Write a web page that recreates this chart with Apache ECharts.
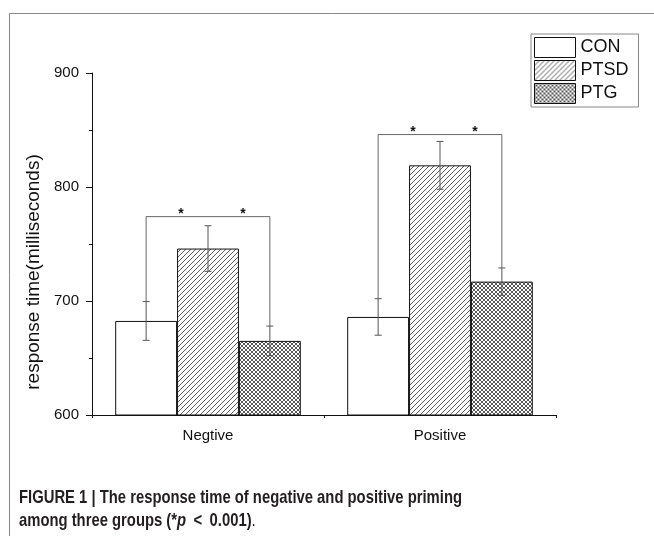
<!DOCTYPE html>
<html>
<head>
<meta charset="utf-8">
<script src="https://cdn.jsdelivr.net/npm/echarts@6/dist/echarts.min.js"></script>
<style>
html,body{margin:0;padding:0;background:#fff;}
#wrap{position:relative;width:654px;height:536px;overflow:hidden;}
#main{width:654px;height:536px;}
#caption{position:absolute;left:19px;top:485px;font-family:'Liberation Sans',Arial,sans-serif;font-weight:bold;font-size:19px;line-height:23px;color:#231f20;white-space:nowrap;transform-origin:0 0;}
#caption .r{font-weight:normal;}
</style>
</head>
<body>
<div id="wrap">
<div id="main"></div>
<div id="caption"><span id="cap1">FIGURE 1 | The response time of negative and positive priming</span><br>among three groups (*<i>p</i>&ensp;&lt;&ensp;0.001)<span class="r">.</span></div>
</div>
<script>
// ---- data ----
const categories = ['Negtive', 'Positive'];
const seriesNames = ['CON', 'PTSD', 'PTG'];
const conMean = [682.5, 686];
const ptsdMean = [746, 819];
const ptgMean = [665, 717];
const conErr = [17, 16];
const ptsdErr = [20, 21];
const ptgErr = [13, 12];
const bracketY = [774, 846];
const yMin = 600, yMax = 900, yInterval = 100;

// caption width fit (condensed face of the original)
(function () {
  const cap = document.getElementById('caption');
  const w = document.getElementById('cap1').getBoundingClientRect().width;
  cap.style.transform = 'scaleX(' + (443 / w) + ')';
})();

// ---- patterns ----
function makeHatch() {
  const c = document.createElement('canvas');
  const s = 5; c.width = s; c.height = s;
  const g = c.getContext('2d');
  g.fillStyle = '#fff'; g.fillRect(0, 0, s, s);
  g.strokeStyle = '#333'; g.lineWidth = 0.8;
  g.beginPath();
  g.moveTo(0, s); g.lineTo(s, 0);
  g.moveTo(-1, 1); g.lineTo(1, -1);
  g.moveTo(s - 1, s + 1); g.lineTo(s + 1, s - 1);
  g.stroke();
  return c;
}
function makeCross() {
  const c = document.createElement('canvas');
  const s = 4; c.width = s; c.height = s;
  const g = c.getContext('2d');
  g.fillStyle = '#fff'; g.fillRect(0, 0, s, s);
  g.strokeStyle = '#3a3a3a'; g.lineWidth = 0.85;
  g.beginPath();
  g.moveTo(0, s); g.lineTo(s, 0);
  g.moveTo(0, 0); g.lineTo(s, s);
  g.moveTo(-1, 1); g.lineTo(1, -1);
  g.moveTo(s - 1, s + 1); g.lineTo(s + 1, s - 1);
  g.moveTo(-1, s - 1); g.lineTo(1, s + 1);
  g.moveTo(s - 1, -1); g.lineTo(s + 1, 1);
  g.stroke();
  return c;
}
const fills = ['#ffffff', {image: makeHatch(), repeat: 'repeat'}, {image: makeCross(), repeat: 'repeat'}];
const means = [conMean, ptsdMean, ptgMean];
const errs = [conErr, ptsdErr, ptgErr];

const chart = echarts.init(document.getElementById('main'));

const barSeries = seriesNames.map((name, i) => ({
  name: name,
  type: 'bar',
  data: means[i],
  barGap: '0%',
  barCategoryGap: '20%',
  itemStyle: {color: fills[i], borderColor: '#111', borderWidth: 1},
  emphasis: {disabled: true},
  z: 2
}));

const errData = [];
for (let c = 0; c < categories.length; c++) {
  for (let s = 0; s < seriesNames.length; s++) {
    errData.push([c, s, means[s][c], errs[s][c]]);
  }
}

const bracketData = categories.map((_, c) => [c, bracketY[c], conMean[c] + conErr[c], ptgMean[c] + ptgErr[c]]);

function barX(api, c, s) {
  const band = api.size([1, 0])[0];
  const bw = band * 0.8 / 3;
  return api.coord([c, yMin])[0] + (s - 1) * bw;
}

const starStyle = {text: '*', fontFamily: 'Liberation Sans', fontSize: 14, fontWeight: 'bold', fill: '#111', align: 'center', verticalAlign: 'middle'};

chart.setOption({
  animation: false,
  graphic: [
    {type: 'rect', left: 7, top: 11, shape: {width: 800, height: 700}, style: {fill: 'none', stroke: '#888', lineWidth: 1}, silent: true}
  ],
  legend: {
    data: seriesNames,
    orient: 'vertical',
    left: 531, top: 34,
    itemWidth: 41, itemHeight: 20,
    itemGap: 2,
    padding: [3, 10, 3, 3],
    borderColor: '#888', borderWidth: 1,
    selectedMode: false,
    icon: 'rect',
    itemStyle: {borderColor: '#111', borderWidth: 1},
    textStyle: {fontFamily: 'Liberation Sans', fontSize: 18, color: '#111'}
  },
  grid: {left: 92, right: 98, top: 73, bottom: 121},
  xAxis: [
    {
      type: 'category', data: categories,
      axisLine: {lineStyle: {color: '#111', width: 1}},
      axisTick: {alignWithLabel: true, length: 5, lineStyle: {color: '#111'}},
      axisLabel: {fontFamily: 'Liberation Sans', fontSize: 15, color: '#111', margin: 13}
    },
    {
      type: 'category', data: categories, position: 'bottom',
      axisLine: {show: false},
      axisTick: {show: true, length: 3, lineStyle: {color: '#111'}},
      axisLabel: {show: false}
    }
  ],
  yAxis: {
    type: 'value', min: yMin, max: yMax, interval: yInterval,
    name: 'response time(milliseconds)',
    nameLocation: 'middle', nameGap: 43, nameRotate: 90,
    nameTextStyle: {fontFamily: 'Liberation Sans', fontSize: 19, color: '#111', padding: [0, 56, 0, 0]},
    axisLine: {show: true, lineStyle: {color: '#111', width: 1}},
    axisTick: {show: true, length: 6, lineStyle: {color: '#111'}},
    minorTick: {show: true, splitNumber: 2, length: 3, lineStyle: {color: '#111'}},
    splitLine: {show: false},
    axisLabel: {fontFamily: 'Liberation Sans', fontSize: 15, color: '#111', margin: 13}
  },
  series: barSeries.concat([
    {
      type: 'custom',
      name: 'err',
      data: errData,
      encode: {x: 0, y: 2},
      z: 5,
      silent: true,
      renderItem: function (params, api) {
        const c = api.value(0), s = api.value(1), m = api.value(2), e = api.value(3);
        const x = barX(api, c, s);
        const yt = api.coord([c, m + e])[1];
        const yb = api.coord([c, m - e])[1];
        const cap = 3.5;
        const st = {stroke: '#555', lineWidth: 1};
        return {type: 'group', children: [
          {type: 'line', shape: {x1: x, y1: yt, x2: x, y2: yb}, style: st},
          {type: 'line', shape: {x1: x - cap, y1: yt, x2: x + cap, y2: yt}, style: st},
          {type: 'line', shape: {x1: x - cap, y1: yb, x2: x + cap, y2: yb}, style: st}
        ]};
      }
    },
    {
      type: 'custom',
      name: 'sig',
      data: bracketData,
      encode: {x: 0, y: 1},
      z: 5,
      silent: true,
      renderItem: function (params, api) {
        const c = api.value(0), by = api.value(1), t0 = api.value(2), t2 = api.value(3);
        const x0 = barX(api, c, 0), x1 = barX(api, c, 1), x2 = barX(api, c, 2);
        const yb = api.coord([c, by])[1];
        const y0 = api.coord([c, t0])[1];
        const y2 = api.coord([c, t2])[1];
        const st = {stroke: '#666', lineWidth: 1, fill: null};
        return {type: 'group', children: [
          {type: 'polyline', shape: {points: [[x0, y0], [x0, yb], [x2, yb], [x2, y2]]}, style: st},
          {type: 'text', x: (x0 + x1) / 2 + 4, y: yb - 2, style: starStyle},
          {type: 'text', x: (x1 + x2) / 2 + 4, y: yb - 2, style: starStyle}
        ]};
      }
    }
  ])
});
</script>
</body>
</html>
